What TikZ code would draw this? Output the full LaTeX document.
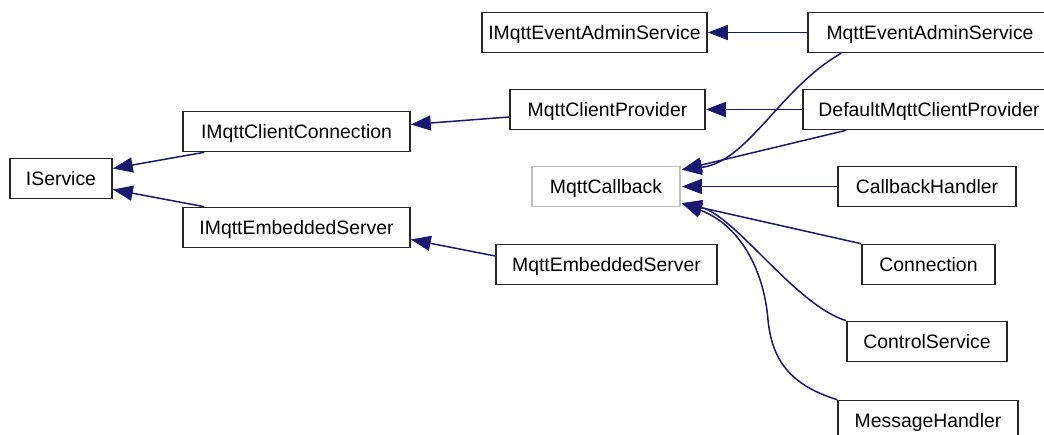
\documentclass[tikz,border=0pt]{standalone}
\usepackage{fontspec}
\setmainfont{Liberation Sans}
\usetikzlibrary{calc, arrows.meta}
\definecolor{edgeblue}{RGB}{25,25,112}
\tikzstyle{cls}=[draw=black!85, line width=1.6pt, rectangle, fill=white, minimum height=40pt, inner sep=0pt, font=\fontsize{19.4}{21}\selectfont, text height=13.8pt, text depth=0pt]
\tikzstyle{inh}=[draw=edgeblue, line width=1.5pt, ->]
\tikzset{>={Triangle[length=20pt, width=15pt]}}

\begin{document}
\begin{tikzpicture}[x=1pt, y=-1pt]
\fill[white] (0,0) rectangle (1044,435);
\clip (0,0) rectangle (1044,435);
% interfaces
\node[cls, minimum width=102pt] (svc) at (61,178.5) {IService};
\node[cls, minimum width=227pt] (icc) at (296.5,131.5) {IMqttClientConnection};
\node[cls, minimum width=227pt] (ies) at (296.5,227.5) {IMqttEmbeddedServer};
\node[cls, minimum width=225pt] (imeas) at (594.5,32.5) {IMqttEventAdminService};
\node[cls, draw=black!25, minimum width=148pt] (cb) at (606,186.5) {MqttCallback};
% classes
\node[cls, minimum width=195pt] (mcp) at (607.5,109.5) {MqttClientProvider};
\node[cls, minimum width=221pt] (mes) at (606.5,264.5) {MqttEmbeddedServer};
\node[cls, minimum width=244pt] (meas) at (930,32.5) {MqttEventAdminService};
\node[cls, minimum width=252pt] (dmcp) at (929,109.5) {DefaultMqttClientProvider};
\node[cls, minimum width=178pt] (cbh) at (927,186.5) {CallbackHandler};
\node[cls, minimum width=133pt] (conn) at (928.5,264.5) {Connection};
\node[cls, minimum width=160pt] (ctrl) at (927,341.5) {ControlService};
\node[cls, minimum width=180pt] (msgh) at (928,420.5) {MessageHandler};

\draw[inh] ($(icc.south west)+(22,0)$) -- ($(svc.east)+(0,-10)$);
\draw[inh] ($(ies.north west)+(22,0)$) -- ($(svc.east)+(0,11)$);
\draw[inh] ($(mcp.west)+(0,7.5)$) -- ($(icc.east)+(0,-7)$);
\draw[inh] ($(mes.west)+(0,-8.5)$) -- ($(ies.east)+(0,12)$);
\draw[inh] (meas.west) -- (imeas.east);
\draw[inh] (dmcp.west) -- (mcp.east);

\draw[inh] ($(meas.south west)+(34,0)$) .. controls (780,88) and (748,162) .. ($(cb.north east)+(1,4)$);
\draw[inh] ($(dmcp.south west)+(44,0)$) -- ($(cb.north east)+(1,4)$);
\draw[inh] (cbh.west) -- ($(cb.east)+(1,0)$);
\draw[inh] (conn.north west) -- ($(cb.south east)+(1,-4)$);
\draw[inh] (ctrl.north west) .. controls (795,305) and (735,215) .. ($(cb.south east)+(1,-4)$);
\draw[inh] (msgh.north west) .. controls (790,385) and (772,360) .. (768,320)
  .. controls (764,270) and (740,225) .. ($(cb.south east)+(1,-4)$);
\end{tikzpicture}
\end{document}
